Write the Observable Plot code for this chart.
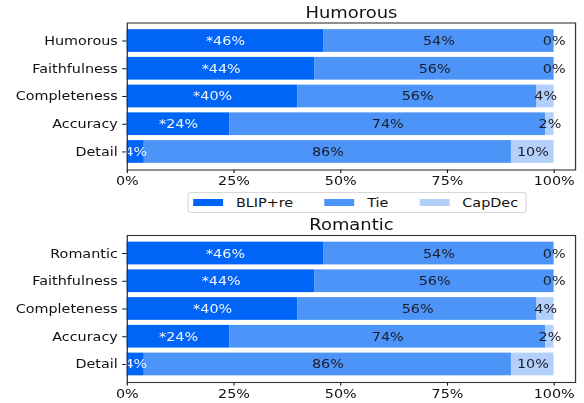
<!DOCTYPE html>
<html>
<head>
<meta charset="utf-8">
<script src="https://cdn.jsdelivr.net/npm/d3@7"></script>
<script src="https://cdn.jsdelivr.net/npm/@observablehq/plot@0.6"></script>
<style>
  html, body { margin: 0; padding: 0; background: #fff; }
  #wrap { position: absolute; left: 0; top: 0; height: 403px; transform-origin: 0 0;
          font-family: "DejaVu Sans", sans-serif; }
  #wrap svg { position: absolute; left: 0; overflow: visible; }
  .legend { position: absolute; box-sizing: border-box; display: flex; align-items: center;
            border: 1px solid #d9d9d9; border-radius: 3px; background: #fff; color: #111; }
  .legend .item { display: flex; align-items: center; }
  .legend .sw { display: inline-block; }
</style>
</head>
<body>
<div id="wrap"></div>
<script>
// ---------- data ----------
const seriesNames = ["BLIP+re", "Tie", "CapDec"];
const seriesColors = ["#0064f6", "#4c94f8", "#b3d0fb"];
const xTicks = [0, 0.25, 0.5, 0.75, 1];

const humorousTitle = "Humorous";
const humorousCategories = ["Humorous", "Faithfulness", "Completeness", "Accuracy", "Detail"];
const humorousBlip = [46, 44, 40, 24, 4];
const humorousTie = [54, 56, 56, 74, 86];
const humorousCapDec = [0, 0, 4, 2, 10];
const humorousSignificant = [true, true, true, true, false];

const romanticTitle = "Romantic";
const romanticCategories = ["Romantic", "Faithfulness", "Completeness", "Accuracy", "Detail"];
const romanticBlip = [46, 44, 40, 24, 4];
const romanticTie = [54, 56, 56, 74, 86];
const romanticCapDec = [0, 0, 4, 2, 10];
const romanticSignificant = [true, true, true, true, false];

// ---------- layout ----------
const S = 1.15;            // horizontal stretch of the reference
const W = 584 / S;
const FS = 12.5;
const wrap = document.getElementById("wrap");
wrap.style.width = W + "px";
wrap.style.transform = `scaleX(${S})`;

function panel(title, categories, blip, tie, capdec, sig, height, marginTop, marginBottom) {
  const rows = [];
  categories.forEach((c, i) => {
    rows.push({cat: c, series: seriesNames[0], value: blip[i] / 100, label: (sig[i] ? "*" : "") + blip[i] + "%"});
    rows.push({cat: c, series: seriesNames[1], value: tie[i] / 100, label: tie[i] + "%"});
    rows.push({cat: c, series: seriesNames[2], value: capdec[i] / 100, label: capdec[i] + "%"});
  });
  return Plot.plot({
    width: W,
    height,
    marginLeft: 126.7 / S,
    marginRight: 9 / S,
    marginTop,
    marginBottom,
    style: {fontFamily: "DejaVu Sans, sans-serif", fontSize: FS + "px", color: "#111", background: "transparent", overflow: "visible"},
    x: {domain: [0, 1.05], ticks: xTicks, tickFormat: d3.format(".0%"), label: null, tickSize: 3.5, tickPadding: 3},
    y: {domain: categories, paddingInner: 0.18, paddingOuter: 0.24, round: false, label: null, tickSize: 4.5 / S, tickPadding: 5 / S},
    color: {domain: seriesNames, range: seriesColors},
    marks: [
      Plot.barX(rows, Plot.stackX({x: "value", y: "cat", fill: "series"})),
      Plot.text(rows, Plot.stackX({x: "value", y: "cat",
        text: d => d.series === seriesNames[0] ? d.label : null, fill: "#f2f5fc", fontSize: FS})),
      Plot.text(rows, Plot.stackX({x: "value", y: "cat",
        text: d => d.series !== seriesNames[0] ? d.label : null, fill: "#1c1c28", fontSize: FS})),
      Plot.frame({stroke: "#333", strokeWidth: 1.1}),
      Plot.text([title], {frameAnchor: "top", dy: -10.5, fontSize: 15.6, fill: "#111", lineAnchor: "middle"})
    ]
  });
}

const topPanel = panel(humorousTitle, humorousCategories, humorousBlip, humorousTie, humorousCapDec, humorousSignificant, 190, 22.5, 20.5);
topPanel.style.top = "0px";
wrap.appendChild(topPanel);

const bottomPanel = panel(romanticTitle, romanticCategories, romanticBlip, romanticTie, romanticCapDec, romanticSignificant, 189, 21, 21);
bottomPanel.style.top = "214px";
wrap.appendChild(bottomPanel);

// ---------- legend ----------
const legendBox = document.createElement("div");
legendBox.className = "legend";
legendBox.style.left = (187.3 / S) + "px";
legendBox.style.top = "192.3px";
legendBox.style.height = "20.5px";
legendBox.style.paddingLeft = (4.5 / S) + "px";
legendBox.style.paddingRight = (8 / S) + "px";
legendBox.style.fontSize = FS + "px";
seriesNames.forEach((name, i) => {
  const item = document.createElement("div");
  item.className = "item";
  if (i > 0) item.style.marginLeft = (31 / S) + "px";
  const sw = document.createElement("span");
  sw.className = "sw";
  sw.style.width = (30.5 / S) + "px";
  sw.style.height = "7px";
  sw.style.background = seriesColors[i];
  sw.style.marginRight = (12.5 / S) + "px";
  const lab = document.createElement("span");
  lab.textContent = name;
  item.appendChild(sw);
  item.appendChild(lab);
  legendBox.appendChild(item);
});
wrap.appendChild(legendBox);
</script>
</body>
</html>
